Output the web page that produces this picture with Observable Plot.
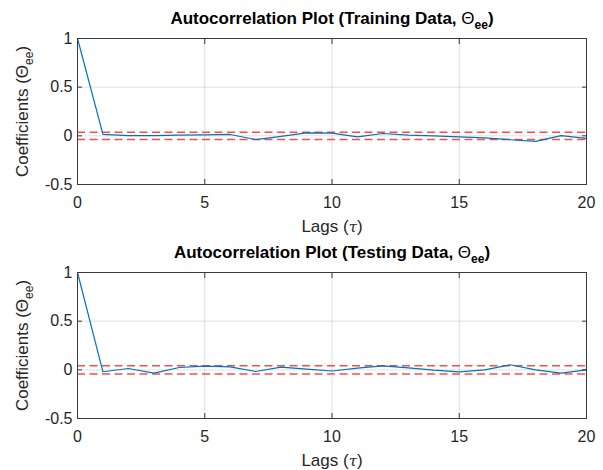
<!DOCTYPE html>
<html>
<head>
<meta charset="utf-8">
<script src="https://cdn.jsdelivr.net/npm/d3@7"></script>
<script src="https://cdn.jsdelivr.net/npm/@observablehq/plot@0.6"></script>
<style>
  html, body { margin: 0; padding: 0; background: #ffffff; }
  #chart { position: relative; width: 603px; height: 470px; background: #ffffff; overflow: hidden; }
  #chart svg { display: block; }
</style>
</head>
<body>
<div id="chart"></div>
<script>
// ---- data ----
const lags = [0, 1, 2, 3, 4, 5, 6, 7, 8, 9, 10, 11, 12, 13, 14, 15, 16, 17, 18, 19, 20];
const trainAcf = [1, 0.014, 0.003, 0.003, 0.007, 0.010, 0.014, -0.038, -0.005, 0.031, 0.027,
                  -0.010, 0.024, 0.007, 0.000, -0.010, -0.020, -0.040, -0.057, 0.003, -0.027];
const testAcf = [1, -0.020, 0.014, -0.034, 0.024, 0.038, 0.031, -0.017, 0.028, 0.007, -0.012,
                 0.017, 0.041, 0.020, -0.003, -0.020, 0.000, 0.052, 0.000, -0.034, 0.000];
const trainBound = 0.037;
const testBound = 0.042;
const xTicks = [0, 5, 10, 15, 20];
const yTicks = [-0.5, 0, 0.5, 1];
const trainTitle = "Autocorrelation Plot (Training Data, Θee)";
const testTitle = "Autocorrelation Plot (Testing Data, Θee)";
const yLabel = "Coefficients (Θee)";
const xLabel = "Lags (τ)";

const FONT = "'Liberation Sans', Arial, Helvetica, sans-serif";
const INK = "#262626";
const TICK_FS = 16;
const LABEL_FS = 17;
const TITLE_FS = 17;

function panel(values, bound, title, height, marginBottom) {
  const svg = Plot.plot({
    width: 603,
    height,
    marginLeft: 77,
    marginRight: 17,
    marginTop: 38,
    marginBottom,
    x: {domain: [0, 20]},
    y: {domain: [-0.5, 1]},
    style: {fontFamily: FONT, fontSize: TICK_FS + "px", color: INK, background: "transparent", overflow: "visible"},
    marks: [
      Plot.gridX(xTicks, {stroke: INK, strokeOpacity: 0.14, strokeWidth: 1}),
      Plot.gridY(yTicks, {stroke: INK, strokeOpacity: 0.14, strokeWidth: 1}),
      Plot.ruleY([bound, -bound], {stroke: "#ff2a2a", strokeWidth: 1.5, strokeDasharray: "8,4.5", strokeOpacity: 0.85}),
      Plot.line(lags, {x: lags, y: values, stroke: "#0072BD", strokeWidth: 1.2}),
      Plot.frame({stroke: "#3a3a3a", strokeWidth: 1}),
      Plot.axisX(xTicks, {anchor: "bottom", tickSize: 0, tickPadding: 12, label: null, fontSize: TICK_FS, tickFormat: d => String(d)}),
      Plot.axisY(yTicks, {anchor: "left", tickSize: 0, tickPadding: 5, label: null, fontSize: TICK_FS, tickFormat: d => String(d)}),
      Plot.axisX(xTicks, {anchor: "bottom", tickSize: -5, label: null, tickFormat: () => "", stroke: "#3a3a3a"}),
      Plot.axisX(xTicks, {anchor: "top", tickSize: -5, label: null, tickFormat: () => "", stroke: "#3a3a3a"}),
      Plot.axisY(yTicks, {anchor: "left", tickSize: -5, label: null, tickFormat: () => "", stroke: "#3a3a3a"}),
      Plot.axisY(yTicks, {anchor: "right", tickSize: -5, label: null, tickFormat: () => "", stroke: "#3a3a3a"}),
      Plot.text([title], {text: d => d, frameAnchor: "top", textAnchor: "middle", lineAnchor: "bottom", dy: -15, fontWeight: "bold", fontSize: TITLE_FS, fill: "#000"}),
      Plot.text([yLabel], {text: d => d, frameAnchor: "left", textAnchor: "middle", rotate: -90, lineAnchor: "bottom", dx: -50, fontSize: LABEL_FS, fill: INK}),
      Plot.text([xLabel], {text: d => d, frameAnchor: "bottom", textAnchor: "middle", lineAnchor: "bottom", dy: 47, fontSize: LABEL_FS, fill: INK})
    ]
  });
  // TeX-style subscripts and italic tau
  d3.select(svg).selectAll("text").each(function () {
    const t = this.textContent;
    const sel = d3.select(this);
    if (t.endsWith("Θee)")) {
      const fs = t === yLabel ? LABEL_FS : TITLE_FS;
      const prefix = t.slice(0, t.length - 4);
      sel.text(null);
      sel.append("tspan").text(prefix);
      sel.append("tspan").attr("font-weight", "normal").text("Θ");
      sel.append("tspan").attr("dy", 5).attr("font-size", 12).text("ee");
      sel.append("tspan").attr("dy", -5).attr("font-size", fs).text(")");
    } else if (t === xLabel) {
      sel.text(null);
      sel.append("tspan").text("Lags (");
      sel.append("tspan").attr("font-style", "italic").attr("font-family", "'DejaVu Serif', serif").attr("font-size", 15).text("τ");
      sel.append("tspan").text(")");
    }
  });
  return svg;
}

const chart = document.getElementById("chart");
chart.appendChild(panel(trainAcf, trainBound, trainTitle, 234, 50));
chart.appendChild(panel(testAcf, testBound, testTitle, 236, 52));
</script>
</body>
</html>
